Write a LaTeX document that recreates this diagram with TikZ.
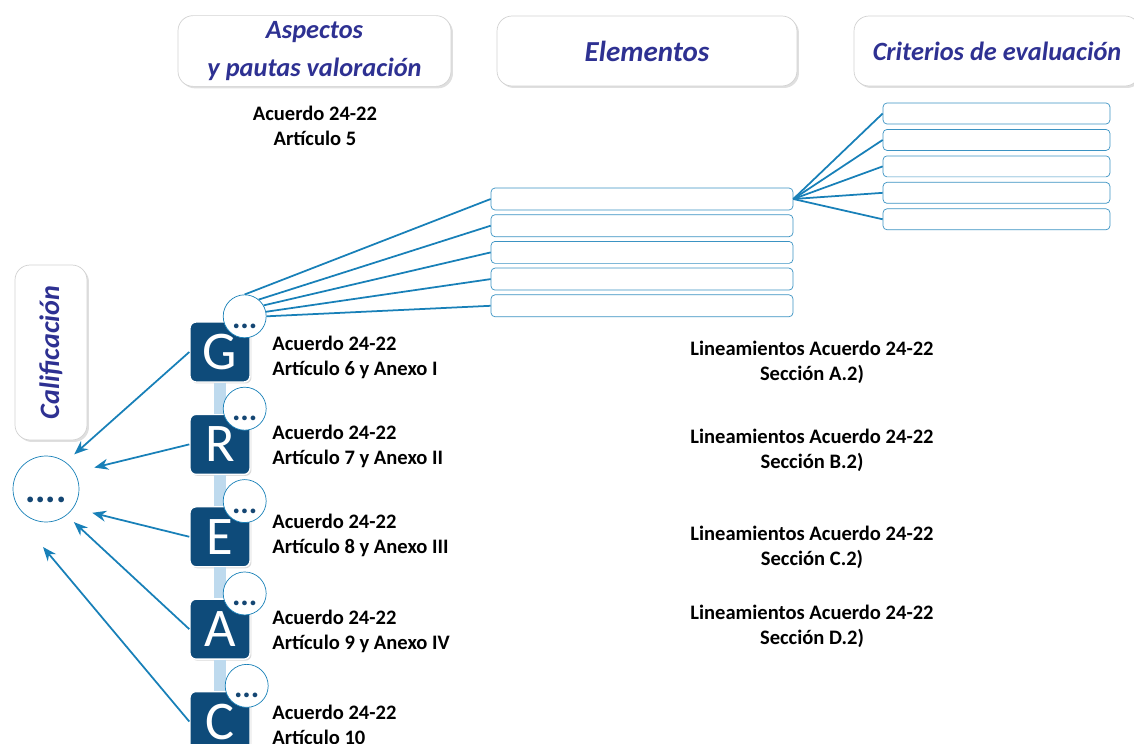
\documentclass[tikz,border=0pt]{standalone}
\usepackage{fontspec}
\setmainfont{Carlito}
\usepackage{tikz}
\usetikzlibrary{positioning,calc,arrows.meta,shadows}

\definecolor{hdrblue}{RGB}{46,49,146}
\definecolor{lineblue}{RGB}{24,128,184}
\definecolor{navy}{RGB}{14,75,122}
\definecolor{stemblue}{RGB}{190,218,238}
\definecolor{dotblue}{RGB}{20,70,115}

\begin{document}
\begin{tikzpicture}[
    x=0.02cm, y=-0.02cm,
    header/.style={rectangle, rounded corners=0.3cm, draw=gray!35, fill=white, align=center,
        font=\bfseries\itshape, text=hdrblue,
        drop shadow={opacity=0.25, shadow xshift=0.04cm, shadow yshift=-0.04cm}},
    letter/.style={rectangle, rounded corners=0.12cm, fill=navy, draw=white, line width=0.8pt,
        minimum size=1.2cm, inner sep=0pt, text=white, font=\fontsize{31}{31}\selectfont,
        drop shadow={opacity=0.3, shadow xshift=0.03cm, shadow yshift=-0.03cm}},
    dots/.style={circle, draw=lineblue, fill=white, minimum size=0.86cm, inner sep=0pt,
        label={[yshift=-0.2cm, text=dotblue, font=\bfseries\fontsize{18}{18}\selectfont]center:...}},
    slot/.style={rectangle, rounded corners=0.08cm, draw=lineblue!85, fill=white,
        minimum width=6.04cm, minimum height=0.44cm, inner sep=0pt},
    crit/.style={slot, minimum width=4.54cm, minimum height=0.42cm},
    ref/.style={font=\bfseries\fontsize{11.7}{14.2}\selectfont, inner sep=0pt},
    link/.style={draw=lineblue, line width=1pt},
    toarrow/.style={link, -{Stealth[length=0.28cm, width=0.22cm]}},
    stem/.style={draw=stemblue, line width=0.25cm}
]
    \useasboundingbox (0,0) rectangle (1134,744);

    % column headers
    \node[header, minimum width=5.46cm, minimum height=1.4cm, font=\bfseries\itshape\fontsize{15}{21.5}\selectfont] (aspectos) at (314.5,51) {Aspectos\\y pautas valoración};
    \node[header, minimum width=6cm, minimum height=1.4cm, font=\bfseries\itshape\fontsize{16.5}{20}\selectfont] (elementos) at (647,51) {Elementos};
    \node[header, minimum width=5.72cm, minimum height=1.4cm, font=\bfseries\itshape\fontsize{15}{18}\selectfont] (criterios) at (997,51) {Criterios de evaluación};
    \node[header, rotate=90, minimum width=3.5cm, minimum height=1.44cm, font=\bfseries\itshape\fontsize{16}{19}\selectfont] (califbox) at (51,352.5) {Calificación};

    \node[ref, align=center] (art5) at (315,125.5) {Acuerdo 24-22\\Artículo 5};

    % final grade
    \node[circle, draw=lineblue, fill=white, minimum size=1.32cm, inner sep=0pt,
        label={[yshift=-0.22cm, text=dotblue, font=\bfseries\fontsize{22}{22}\selectfont]center:....}] (calif) at (46,489) {};

    % GREAC squares
    \node[letter] (G) at (220,352) {G};
    \node[letter, below=0.62cm of G] (R) {R};
    \node[letter, below=0.62cm of R] (E) {E};
    \node[letter, below=0.62cm of E] (A) {A};
    \node[letter, below=0.62cm of A] (C) {C};

    \draw[stem] (G.south) -- (R.north);
    \draw[stem] (R.south) -- (E.north);
    \draw[stem] (E.south) -- (A.north);
    \draw[stem] (A.south) -- (C.north);

    \node[dots] (gdots) at ($(G.north east)+(-6,-5)$) {};
    \node[dots] (rdots) at ($(R.north east)+(-6,-5)$) {};
    \node[dots] (edots) at ($(E.north east)+(-6,-5)$) {};
    \node[dots] (adots) at ($(A.north east)+(-6,-5)$) {};
    \node[dots] (cdots) at ($(C.north east)+(-4,-5)$) {};

    \node[ref, anchor=west, align=left] (gtext) at (272,357) {Acuerdo 24-22\\Artículo 6 y Anexo I};
    \node[ref, anchor=west, align=left] (rtext) at (272,446.5) {Acuerdo 24-22\\Artículo 7 y Anexo II};
    \node[ref, anchor=west, align=left] (etext) at (272,535.5) {Acuerdo 24-22\\Artículo 8 y Anexo III};
    \node[ref, anchor=west, align=left] (atext) at (272,631.5) {Acuerdo 24-22\\Artículo 9 y Anexo IV};
    \node[ref, anchor=west, align=left] (ctext) at (272,724.5) {Acuerdo 24-22\\Artículo 10};

    \node[ref, align=center] (secA) at (812,362.5) {Lineamientos Acuerdo 24-22\\Sección A.2)};
    \node[ref, align=center] (secB) at (812,450.5) {Lineamientos Acuerdo 24-22\\Sección B.2)};
    \node[ref, align=center] (secC) at (812,547.5) {Lineamientos Acuerdo 24-22\\Sección C.2)};
    \node[ref, align=center] (secD) at (812,626.5) {Lineamientos Acuerdo 24-22\\Sección D.2)};

    % elements and criteria
    \node[slot] (e1) at (642,199) {};
    \node[slot, below=0.08cm of e1] (e2) {};
    \node[slot, below=0.08cm of e2] (e3) {};
    \node[slot, below=0.08cm of e3] (e4) {};
    \node[slot, below=0.08cm of e4] (e5) {};

    \node[crit] (c1) at (996.5,113.5) {};
    \node[crit, below=0.095cm of c1] (c2) {};
    \node[crit, below=0.095cm of c2] (c3) {};
    \node[crit, below=0.095cm of c3] (c4) {};
    \node[crit, below=0.095cm of c4] (c5) {};

    \draw[link] (gdots.north) -- (e1.west);
    \draw[link] (gdots.50) -- (e2.west);
    \draw[link] (gdots.30) -- (e3.west);
    \draw[link] (gdots.12) -- (e4.west);
    \draw[link] (gdots.0) -- (e5.west);

    \draw[link] (e1.east) -- (c1.west);
    \draw[link] (e1.east) -- (c2.west);
    \draw[link] (e1.east) -- (c3.west);
    \draw[link] (e1.east) -- (c4.west);
    \draw[link] (e1.east) -- (c5.west);

    % arrows to the grade
    \coordinate (ctip) at (43,547);
    \draw[toarrow, shorten >=0.23cm] (G.west) -- (calif.54);
    \draw[toarrow, shorten >=0.4cm] (R.west) -- (calif.30);
    \draw[toarrow, shorten >=0.39cm] (E.west) -- (calif.-35);
    \draw[toarrow, shorten >=0.2cm] (A.west) -- (calif.-52);
    \draw[toarrow] (C.west) -- (ctip);
\end{tikzpicture}
\end{document}
